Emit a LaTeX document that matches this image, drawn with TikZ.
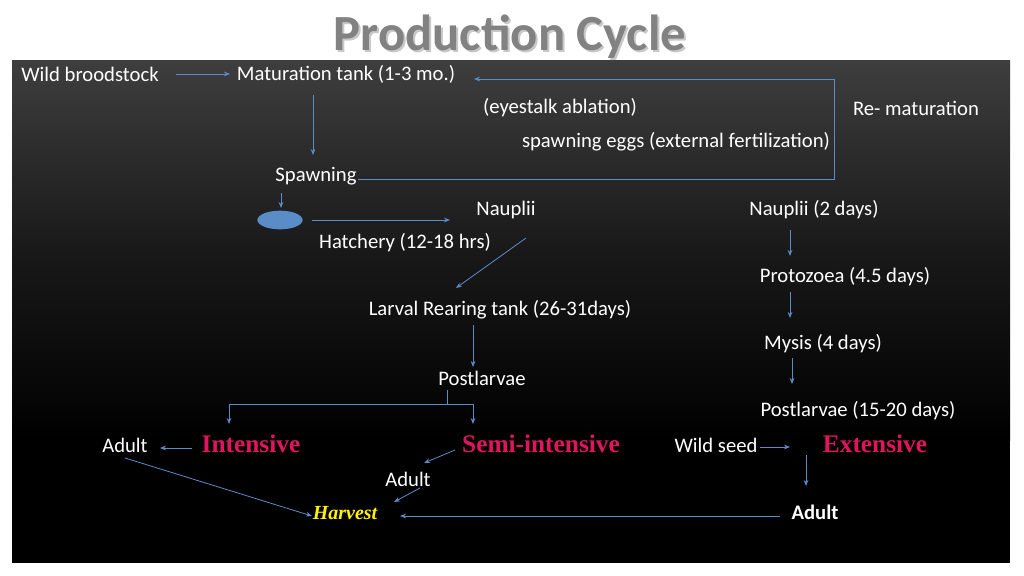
\documentclass[tikz,border=0pt]{standalone}
\usepackage{fontspec}
\setmainfont{Carlito}
\newfontfamily\serifb{Liberation Serif}
\usetikzlibrary{arrows.meta,shapes.geometric}
\definecolor{arr}{RGB}{90,140,200}
\definecolor{lab}{RGB}{225,20,95}
\begin{document}
\begin{tikzpicture}[x=0.75pt,y=-0.75pt,
  t/.style={text=white,font=\fontsize{15.5}{16}\selectfont,inner sep=0pt},
  r/.style={text=lab,font=\serifb\bfseries\fontsize{19}{20}\selectfont,inner sep=0pt},
  a/.style={draw=arr,line width=0.6pt,-{Stealth[length=4.5pt,width=3.5pt]}},
  l/.style={draw=arr,line width=0.6pt}]
\useasboundingbox (0,0) rectangle (1024,575);
\fill[white] (0,0) rectangle (1024,575);
\fill[black] (12,60) rectangle (1010,563);
\shade[top color={rgb,255:red,62;green,62;blue,62},bottom color=black,middle color={rgb,255:red,25;green,25;blue,25}] (12,60) rectangle (1010,440);
\node[text={rgb,255:red,200;green,200;blue,200},font=\bfseries\fontsize{38}{40}\selectfont] at (512,39) {Production Cycle};
\node[text={rgb,255:red,130;green,130;blue,130},font=\bfseries\fontsize{38}{40}\selectfont] (title) at (510,37) {Production Cycle};
\node[t] (wb) at (90,74) {Wild broodstock};
\node[t] (mt) at (346,74) {Maturation tank (1-3 mo.)};
\node[t] (ea) at (560,108) {(eyestalk ablation)};
\node[t] (rm) at (916,108) {Re- maturation};
\node[t] (se) at (676,142) {spawning eggs (external fertilization)};
\node[t] (sp) at (316,176) {Spawning};
\node[draw=none,fill=arr,ellipse,minimum width=34,minimum height=14,inner sep=0pt] (egg) at (280,220) {};
\node[t] (na) at (506,210) {Nauplii};
\node[t] (ha) at (405,243) {Hatchery (12-18 hrs)};
\node[t] (lr) at (500,310) {Larval Rearing tank (26-31days)};
\node[t] (pl) at (482,378) {Postlarvae};
\node[r] (in) at (251,444) {Intensive};
\node[t] (ad1) at (125,445) {Adult};
\node[r] (si) at (541,444) {Semi-intensive};
\node[t] (ad2) at (408,479) {Adult};
\node[text=yellow,font=\serifb\bfseries\itshape\fontsize{15}{16}\selectfont,inner sep=0pt] (hv) at (345,513) {Harvest};
\node[t,font=\bfseries\fontsize{15.5}{16}\selectfont] (ad3) at (815,512) {Adult};
\node[t] (n2) at (814,210) {Nauplii (2 days)};
\node[t] (pz) at (845,277) {Protozoea (4.5 days)};
\node[t] (my) at (823,344) {Mysis (4 days)};
\node[t] (p2) at (858,411) {Postlarvae (15-20 days)};
\node[t] (ws) at (716,445) {Wild seed};
\node[r] (ex) at (875,444) {Extensive};
\coordinate (c1) at (834,179);
\coordinate (c2) at (834,79);
\coordinate (c0) at (358,179);
\draw[a] (176,74) -- (230,74);
\draw[a] (313,95) -- (313,155);
\draw[l] (c0) -- (c1) -- (c2);
\draw[a] (c2) -- (474,79);
\draw[a] (281,193) -- (281,208);
\draw[a] (312,220) -- (450,220);
\draw[a] (526,238) -- (456,288);
\draw[a] (473,325) -- (473,367);
\draw[l] (447,390) -- (447,404);
\draw[l] (229,404) -- (473,404);
\draw[a] (229,404) -- (229,424);
\draw[a] (473,404) -- (473,424);
\draw[a] (192,448) -- (160,448);
\draw[a] (455,450) -- (424,463);
\draw[a] (420,488) -- (394,502);
\draw[a] (125,458) -- (312,516);
\draw[a] (780,516) -- (400,516);
\draw[a] (790,230) -- (790,256);
\draw[a] (790,292) -- (790,318);
\draw[a] (792,358) -- (792,384);
\draw[a] (760,447) -- (790,447);
\draw[a] (806,455) -- (806,486);
\end{tikzpicture}
\end{document}
